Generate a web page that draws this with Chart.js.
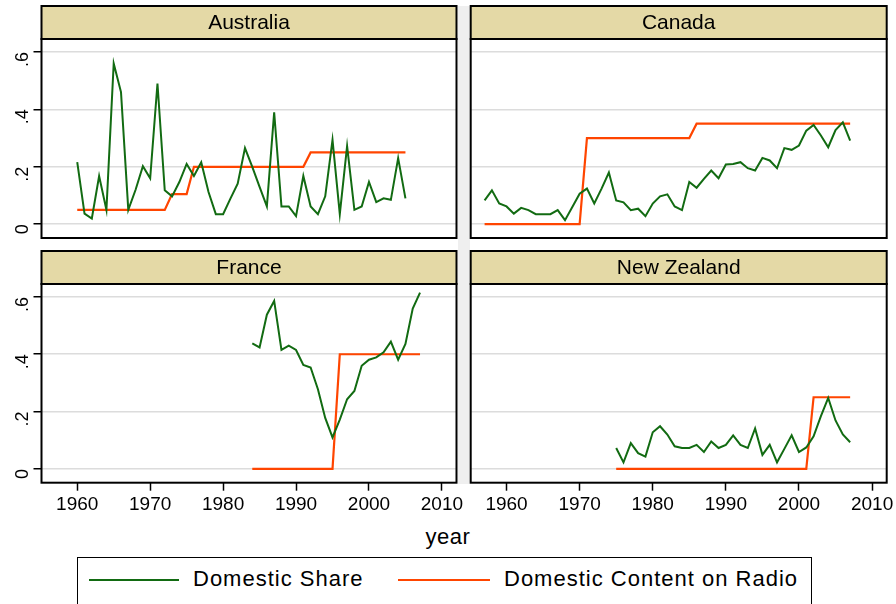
<!DOCTYPE html>
<html>
<head>
<meta charset="utf-8">
<script src="https://cdn.jsdelivr.net/npm/chart.js@4.4.1/dist/chart.umd.min.js"></script>
<style>
    body { margin: 0; background: #fff; width: 896px; height: 604px; overflow: hidden; position: relative; font-family: "Liberation Sans", Arial, sans-serif; }
    canvas { position: absolute; }
    #strip { position: absolute; left: 458px; top: 6px; width: 12px; height: 478px; background: #efefef; }
    #xtitle { position: absolute; left: 0; width: 896px; top: 524px; text-align: center; font-size: 22px; letter-spacing: 0.5px; color: #000; }
    #legend { position: absolute; left: 77px; top: 557px; width: 735px; height: 60px; border: 1.5px solid #000; box-sizing: border-box; }
    #legend .sw { position: absolute; top: 21px; height: 2px; }
    #legend .lb { position: absolute; top: 8px; font-size: 22px; letter-spacing: 1px; color: #000; white-space: nowrap; }
</style>
</head>
<body>
<div id="strip"></div>
<canvas id="p-aus" width="460" height="241" style="left:0;top:0"></canvas>
<canvas id="p-can" width="434" height="241" style="left:462px;top:0"></canvas>
<canvas id="p-fra" width="470" height="275" style="left:0;top:245px"></canvas>
<canvas id="p-nzl" width="434" height="275" style="left:462px;top:245px"></canvas>
<div id="xtitle">year</div>
<div id="legend">
    <div class="sw" style="left:11px;width:90px;background:#126b12"></div>
    <div class="lb" style="left:115px">Domestic Share</div>
    <div class="sw" style="left:320px;width:92px;background:#ff4500"></div>
    <div class="lb" style="left:426px">Domestic Content on Radio</div>
</div>
<script>
// axes
const yearMin = 1955.1;
const yearMax = 2012;
const yearTicks = [1960, 1970, 1980, 1990, 2000, 2010];
const shareTicks = [0, 0.2, 0.4, 0.6];
const shareTickLabels = ['0', '.2', '.4', '.6'];

// Australia, 1960-2005
const ausStart = 1960;
const ausShare = [0.216, 0.037, 0.02, 0.168, 0.05, 0.56, 0.46, 0.05, 0.12, 0.202,
    0.16, 0.49, 0.118, 0.097, 0.147, 0.21, 0.168, 0.216, 0.112, 0.035,
    0.035, 0.089, 0.141, 0.265, 0.2, 0.13, 0.062, 0.39, 0.062, 0.062,
    0.028, 0.168, 0.062, 0.035, 0.097, 0.294, 0.035, 0.272, 0.05, 0.062,
    0.147, 0.077, 0.09, 0.085, 0.23, 0.09];
const ausRadio = [0.05, 0.05, 0.05, 0.05, 0.05, 0.05, 0.05, 0.05, 0.05, 0.05,
    0.05, 0.05, 0.05, 0.105, 0.105, 0.105, 0.2, 0.2, 0.2, 0.2,
    0.2, 0.2, 0.2, 0.2, 0.2, 0.2, 0.2, 0.2, 0.2, 0.2,
    0.2, 0.2, 0.25, 0.25, 0.25, 0.25, 0.25, 0.25, 0.25, 0.25,
    0.25, 0.25, 0.25, 0.25, 0.25, 0.25];

// Canada, 1957-2007
const canStart = 1957;
const canShare = [0.083, 0.118, 0.072, 0.062, 0.037, 0.057, 0.049, 0.035, 0.035, 0.035,
    0.049, 0.014, 0.06, 0.106, 0.124, 0.072, 0.124, 0.18, 0.083, 0.076,
    0.049, 0.054, 0.028, 0.072, 0.097, 0.104, 0.062, 0.049, 0.147, 0.127,
    0.158, 0.187, 0.16, 0.208, 0.21, 0.216, 0.195, 0.187, 0.231, 0.222,
    0.195, 0.265, 0.259, 0.274, 0.326, 0.346, 0.309, 0.268, 0.328, 0.355, 0.291];
const canRadio = [0, 0, 0, 0, 0, 0, 0, 0, 0, 0,
    0, 0, 0, 0, 0.3, 0.3, 0.3, 0.3, 0.3, 0.3,
    0.3, 0.3, 0.3, 0.3, 0.3, 0.3, 0.3, 0.3, 0.3, 0.35,
    0.35, 0.35, 0.35, 0.35, 0.35, 0.35, 0.35, 0.35, 0.35, 0.35,
    0.35, 0.35, 0.35, 0.35, 0.35, 0.35, 0.35, 0.35, 0.35, 0.35, 0.35];

// France, 1984-2007
const fraStart = 1984;
const fraShare = [0.438, 0.424, 0.538, 0.586, 0.415, 0.43, 0.415, 0.363, 0.354, 0.278,
    0.178, 0.11, 0.172, 0.243, 0.272, 0.36, 0.381, 0.389, 0.407, 0.444,
    0.381, 0.436, 0.559, 0.615];
const fraRadio = [0, 0, 0, 0, 0, 0, 0, 0, 0, 0, 0, 0,
    0.4, 0.4, 0.4, 0.4, 0.4, 0.4, 0.4, 0.4, 0.4, 0.4, 0.4, 0.4];

// New Zealand, 1975-2007
const nzlStart = 1975;
const nzlShare = [0.073, 0.023, 0.09, 0.055, 0.043, 0.128, 0.149, 0.12, 0.079, 0.073,
    0.073, 0.084, 0.059, 0.096, 0.073, 0.084, 0.117, 0.084, 0.073, 0.141,
    0.049, 0.084, 0.023, 0.07, 0.117, 0.059, 0.075, 0.114, 0.184, 0.248,
    0.169, 0.12, 0.093];
const nzlRadio = [0, 0, 0, 0, 0, 0, 0, 0, 0, 0,
    0, 0, 0, 0, 0, 0, 0, 0, 0, 0,
    0, 0, 0, 0, 0, 0, 0, 0.25, 0.25, 0.25,
    0.25, 0.25, 0.25];

const green = '#126b12';
const orange = '#ff4500';
const font = '"Liberation Sans", Arial, sans-serif';

const toPoints = (start, vals) => vals.map((v, i) => ({ x: start + i, y: v }));

// beige header strip + black frame round the plot area
const panelFrame = {
    id: 'panelFrame',
    afterDraw(chart, args, opts) {
        const { ctx, chartArea: a } = chart;
        ctx.save();
        ctx.fillStyle = '#e4d9a6';
        ctx.fillRect(a.left, 6, a.right - a.left, a.top - 6);
        ctx.strokeStyle = '#000';
        ctx.lineWidth = 2;
        ctx.strokeRect(a.left, 6, a.right - a.left, a.top - 6);
        ctx.strokeRect(a.left, a.top, a.right - a.left, a.bottom - a.top);
        ctx.fillStyle = '#000';
        ctx.font = '21px ' + font;
        ctx.textAlign = 'center';
        ctx.textBaseline = 'middle';
        ctx.fillText(opts.title, (a.left + a.right) / 2, (6 + a.top) / 2 + 1);
        ctx.restore();
    },
};

const makePanel = (id, title, start, share, radio, cfg) => {
    new Chart(document.getElementById(id).getContext('2d'), {
        type: 'line',
        data: {
            datasets: [
                { label: 'Domestic Share', data: toPoints(start, share), borderColor: green, borderWidth: 2, pointRadius: 0, tension: 0 },
                { label: 'Domestic Content on Radio', data: toPoints(start, radio), borderColor: orange, borderWidth: 2.2, pointRadius: 0, tension: 0 },
            ],
        },
        options: {
            responsive: false,
            animation: false,
            devicePixelRatio: 1,
            layout: { padding: { top: 39, left: 0, right: cfg.padRight, bottom: cfg.padBottom } },
            plugins: { legend: { display: false }, tooltip: { enabled: false }, panelFrame: { title } },
            scales: {
                x: {
                    type: 'linear',
                    min: yearMin,
                    max: yearMax,
                    display: cfg.showX,
                    afterBuildTicks: (s) => { s.ticks = yearTicks.map((v) => ({ value: v })); },
                    afterFit: (s) => {
                        if (cfg.showX) s.height = cfg.xHeight;
                        s.paddingLeft = 0;
                        s.paddingRight = 0;
                    },
                    border: { display: false },
                    grid: { drawOnChartArea: false, tickLength: 8, tickColor: '#000', tickWidth: 1.5 },
                    ticks: { color: '#000', font: { family: font, size: 19 }, padding: 3, maxRotation: 0, autoSkip: false, callback: (v) => String(v) },
                },
                y: {
                    min: -0.048,
                    max: 0.645,
                    afterBuildTicks: (s) => { s.ticks = shareTicks.map((v) => ({ value: v })); },
                    afterFit: (s) => {
                        s.width = cfg.yWidth;
                        s.paddingTop = 0;
                        s.paddingBottom = 0;
                    },
                    border: { display: false },
                    grid: { color: '#dcdcdc', lineWidth: 1.5, drawTicks: cfg.showY, tickLength: 8, tickColor: '#000', tickWidth: 1.5 },
                    ticks: {
                        display: cfg.showY,
                        color: '#000',
                        font: { family: font, size: 18 },
                        minRotation: 90,
                        maxRotation: 90,
                        padding: 10,
                        callback: (v) => shareTickLabels[shareTicks.indexOf(v)],
                    },
                },
            },
        },
        plugins: [panelFrame],
    });
};

makePanel('p-aus', 'Australia', ausStart, ausShare, ausRadio, { showX: false, showY: true, yWidth: 41.5, padRight: 3.5, padBottom: 3 });
makePanel('p-can', 'Canada', canStart, canShare, canRadio, { showX: false, showY: false, yWidth: 8.7, padRight: 9.3, padBottom: 3 });
makePanel('p-fra', 'France', fraStart, fraShare, fraRadio, { showX: true, showY: true, yWidth: 41.5, padRight: 13.5, padBottom: 0, xHeight: 37.3 });
makePanel('p-nzl', 'New Zealand', nzlStart, nzlShare, nzlRadio, { showX: true, showY: false, yWidth: 8.7, padRight: 9.3, padBottom: 0, xHeight: 37.3 });
</script>
</body>
</html>
